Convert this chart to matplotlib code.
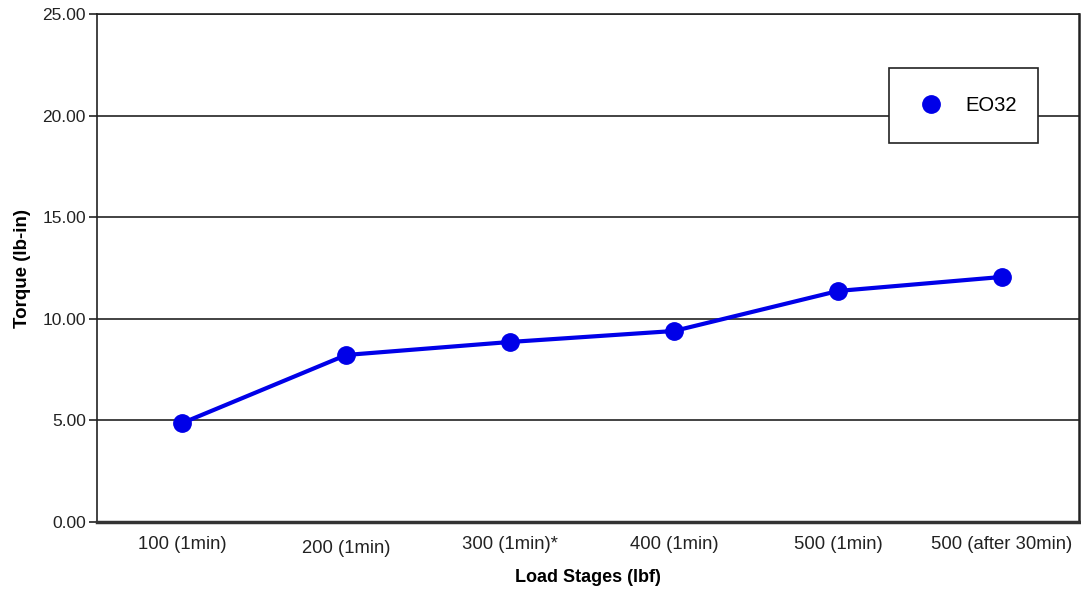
import matplotlib
matplotlib.use("Agg")
import matplotlib.pyplot as plt
from matplotlib.lines import Line2D

categories = ["100 (1min)", "200 (1min)", "300 (1min)*", "400 (1min)", "500 (1min)", "500 (after 30min)"]
torque = [4.87, 8.22, 8.86, 9.40, 11.37, 12.06]
series_name = "EO32"
yticks = [0, 5, 10, 15, 20, 25]

plt.rcParams['font.family'] = ['Liberation Sans', 'DejaVu Sans']

fig = plt.figure(figsize=(10.81, 5.91), dpi=100)
ax = fig.add_axes([97/1081, 1 - 522/591, (1079-97)/1081, (522-14)/591])

x = list(range(len(categories)))
ax.plot(x, torque, color='#0000e8', lw=3, marker='o', markersize=12.5, zorder=3)

ax.set_xlim(-0.52, 5.47)
ax.set_ylim(0, 25)
ax.set_yticks(yticks)
ax.set_yticklabels([f"{v:.2f}" for v in yticks], fontsize=12.5, color='#222222')
ax.yaxis.grid(True, color='#222222', lw=1.2)
ax.set_axisbelow(True)
ax.tick_params(axis='y', length=6, width=1.2, color='#222222', pad=2)

ax.set_xticks(x)
ax.set_xticklabels(categories, fontsize=13.3, color='#222222')
ax.tick_params(axis='x', length=0, pad=10)
for i, lab in enumerate(ax.get_xticklabels()):
    if i == 1:
        lab.set_y(-0.008)

for s in ['left', 'top', 'right']:
    ax.spines[s].set_color('#222222')
    ax.spines[s].set_linewidth(1.2)
ax.spines['bottom'].set_color('#333333')
ax.spines['bottom'].set_linewidth(2.5)
ax.spines['right'].set_linewidth(1.8)

ax.set_ylabel("Torque (lb-in)", fontsize=13.5, fontweight='bold', labelpad=8)
ax.set_xlabel("Load Stages (lbf)", fontsize=13, fontweight='bold', labelpad=9)

handle = Line2D([], [], color='#0000e8', marker='o', markersize=12.5, lw=0)
ax_h = 522 - 14
ax_w = 1079 - 97
leg = ax.legend([handle], [series_name], loc='center',
                bbox_to_anchor=((889-97)/ax_w, 1 - (142-14)/ax_h, (1038-889)/ax_w, (142-69)/ax_h),
                mode='expand', fontsize=14.5, frameon=True, fancybox=False,
                borderpad=1.4, handletextpad=1.0, handlelength=1.4, borderaxespad=0)
leg.get_frame().set_edgecolor('#222222')
leg.get_frame().set_linewidth(1.2)
leg.get_frame().set_alpha(1)

fig.savefig("out.png", dpi=100)
